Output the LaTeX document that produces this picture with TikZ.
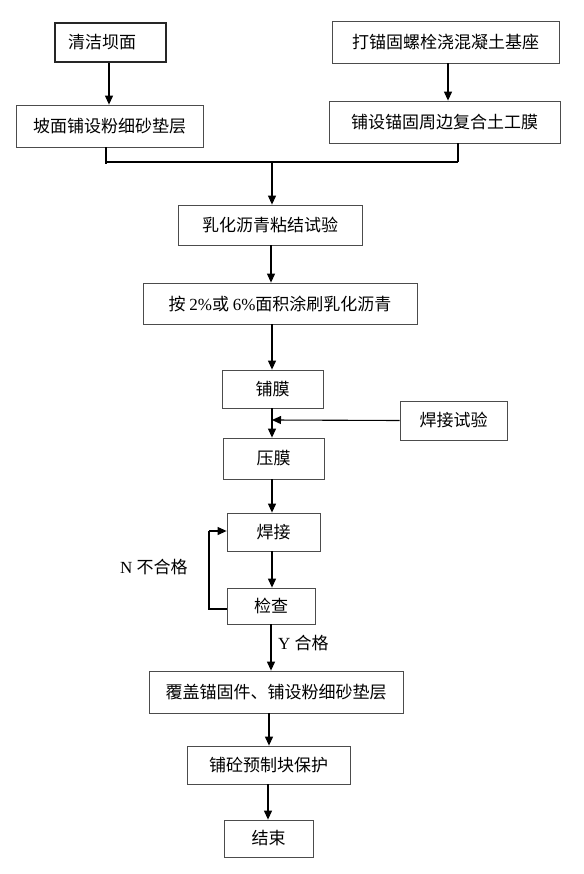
\documentclass[tikz,border=0pt]{standalone}
\usepackage{fontspec}
\setmainfont{Liberation Serif}
\newfontfamily\cjk{Noto Sans CJK SC}
\usetikzlibrary{arrows.meta,calc}
\begin{document}
\begin{tikzpicture}[x=1pt,y=-1pt,
  box/.style={draw=black!70,line width=0.8pt,rectangle,inner sep=0pt,align=center,font=\fontsize{17}{20}\selectfont\cjk},
  arr/.style={line width=1.1pt,-{Triangle[length=9pt,width=8pt]}},
  ln/.style={line width=1.1pt},
  lbl/.style={font=\fontsize{17}{20}\selectfont,inner sep=0pt}]
\path[use as bounding box,fill=white] (0,0) rectangle (583,874);
% boxes
\node[box,draw=black!85,line width=1.1pt,minimum width=111pt,minimum height=39pt] (clean) at (110.5,42.5) {};
\node[lbl,font=\fontsize{17}{20}\selectfont\cjk] (cleant) at (102,42.5) {清洁坝面};
\node[box,minimum width=187pt,minimum height=42pt] (slope) at (109.5,126) {坡面铺设粉细砂垫层};
\node[box,minimum width=227pt,minimum height=42pt] (anchor) at (445.5,42) {打锚固螺栓浇混凝土基座};
\node[box,minimum width=231pt,minimum height=42pt] (geo) at (444.5,122) {铺设锚固周边复合土工膜};
\node[box,minimum width=184pt,minimum height=40pt] (test1) at (270,225) {乳化沥青粘结试验};
\node[box,minimum width=274pt,minimum height=41pt] (brush) at (280,303.5) {按 {\fontspec{Liberation Serif}2\%}或 {\fontspec{Liberation Serif}6\%}面积涂刷乳化沥青};
\node[box,minimum width=101pt,minimum height=38pt] (lay) at (272.5,389) {铺膜};
\node[box,minimum width=107pt,minimum height=39pt] (wtest) at (453.5,420.5) {焊接试验};
\node[box,minimum width=101pt,minimum height=41pt] (press) at (273.5,458.5) {压膜};
\node[box,minimum width=93pt,minimum height=38pt] (weld) at (273.5,532) {焊接};
\node[box,minimum width=88pt,minimum height=36pt] (check) at (271,606) {检查};
\node[box,minimum width=254pt,minimum height=42pt] (cover) at (276,692) {覆盖锚固件、铺设粉细砂垫层};
\node[box,minimum width=163pt,minimum height=38pt] (pave) at (268.5,765) {铺砼预制块保护};
\node[box,minimum width=89pt,minimum height=37pt] (end) at (268.5,838.5) {结束};
% labels
\node[lbl,anchor=west] (nlab) at (120,567) {N {\cjk 不合格}};
\node[lbl,anchor=west] (ylab) at (278,643) {Y {\cjk 合格}};
% coordinates
\coordinate (bl) at (106,162);
\coordinate (br) at (458,162);
\coordinate (bm) at (272,162);
\coordinate (ml) at (272,420);
\coordinate (lp1) at (209,609);
\coordinate (lp2) at (209,531);
% connectors
\draw[arr] (clean.south -| 109,0) -- (slope.north -| 109,0);
\draw[arr] (anchor.south -| 448,0) -- (geo.north -| 448,0);
\draw[ln] (slope.south -| bl) -- ($(bl)+(0,2)$);
\draw[ln] (geo.south -| br) -- (br);
\draw[ln] (bl) -- (br);
\draw[arr] (bm) -- (test1.north -| bm);
\draw[arr] (test1.south -| 271,0) -- (brush.north -| 271,0);
\draw[arr] (brush.south -| 272,0) -- (lay.north -| 272,0);
\draw[arr] (lay.south -| 272,0) -- (press.north -| 272,0);
\draw[arr] (wtest.west) -- (ml);
\draw[arr] (press.south -| 272,0) -- (weld.north -| 272,0);
\draw[arr] (weld.south -| 272,0) -- (check.north -| 272,0);
\draw[ln] (check.west |- lp1) -- (lp1) -- (lp2);
\draw[arr] (lp2) -- (weld.west |- lp2);
\draw[arr] (check.south -| 271,0) -- (cover.north -| 271,0);
\draw[arr] (cover.south -| 269,0) -- (pave.north -| 269,0);
\draw[arr] (pave.south -| 268,0) -- (end.north -| 268,0);
\end{tikzpicture}
\end{document}
